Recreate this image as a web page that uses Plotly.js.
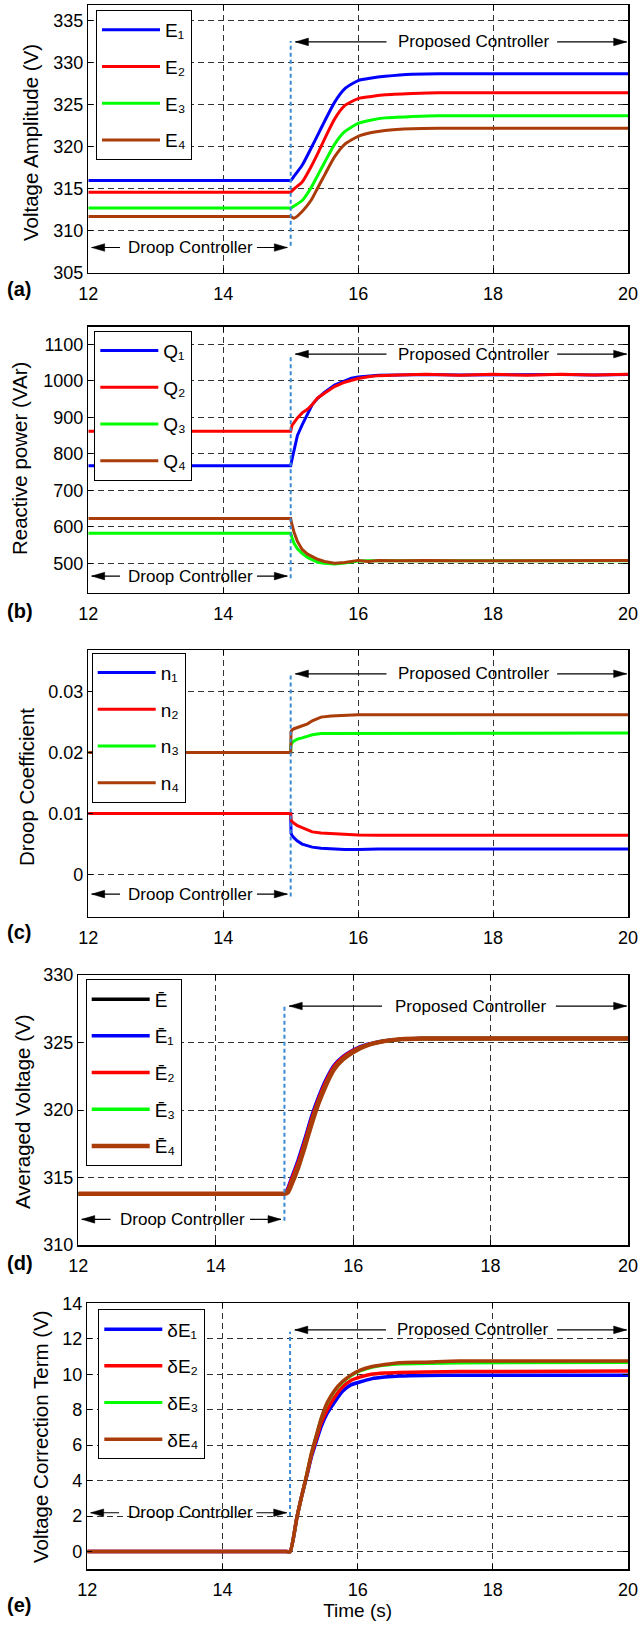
<!DOCTYPE html>
<html><head><meta charset="utf-8">
<script src="https://cdn.plot.ly/plotly-3.0.1.min.js"></script>
<style>body{margin:0;background:#fff}#chart{width:643px;height:1628px}</style>
</head><body><div id="chart"></div>
<script>
// ---------- data ----------
// (a) Voltage amplitude
const tA  = [12, 14, 14.95, 15, 15.05, 15.17, 15.3, 15.4, 15.5, 15.65, 15.8, 16.0, 16.2, 16.4, 16.8, 17.2, 20];
const E1  = [316.0, 316.0, 316.0, 316.0, 316.5, 317.8, 319.8, 321.4, 323.0, 325.3, 326.9, 327.9, 328.2, 328.4, 328.65, 328.7, 328.7];
const E2  = [314.6, 314.6, 314.6, 314.6, 315.0, 315.8, 317.6, 319.2, 320.9, 323.3, 324.9, 325.75, 326.0, 326.2, 326.35, 326.45, 326.45];
const E3  = [312.7, 312.7, 312.7, 312.7, 312.95, 313.6, 315.1, 316.6, 318.1, 320.3, 321.8, 322.8, 323.2, 323.45, 323.6, 323.7, 323.7];
const E4  = [311.7, 311.7, 311.7, 311.7, 311.5, 312.3, 313.6, 315.1, 316.6, 318.8, 320.3, 321.25, 321.7, 321.95, 322.15, 322.2, 322.2];
// (b) Reactive power
const tB  = [12, 15, 15.02, 15.05, 15.1, 15.17, 15.25, 15.32, 15.4, 15.5, 15.65, 15.8, 15.9, 16.0, 16.15, 16.3, 16.6, 17.0, 17.5, 18.0, 18.5, 19.0, 19.5, 20];
const Q1  = [767, 767, 785, 810, 850, 879, 911, 935, 952, 968, 988, 1000, 1007, 1010, 1013, 1015, 1016, 1017, 1016, 1017, 1016, 1017, 1016, 1017];
const Q2  = [862, 862, 878, 886, 898, 912, 922, 935, 953, 966, 984, 996, 1002, 1006, 1011, 1014, 1016, 1018, 1015, 1018, 1015, 1018, 1016, 1018];
const Q3  = [582, 582, 570, 555, 540, 527, 516, 509, 503, 500, 498, 501, 504, 506, 507, 507, 507, 507, 507, 507, 507, 507, 507, 507];
const Q4  = [623, 623, 605, 585, 560, 538, 525, 518, 511, 505, 500, 502, 505, 508, 505, 508, 507, 508, 507, 507, 508, 507, 507, 508];
// (c) Droop coefficient
const tC  = [12, 15, 15.005, 15.02, 15.05, 15.1, 15.17, 15.25, 15.32, 15.45, 15.6, 15.8, 16.0, 16.3, 20];
const n1  = [0.01, 0.01, 0.0068, 0.0064, 0.0060, 0.0055, 0.0050, 0.0047, 0.0045, 0.0043, 0.0042, 0.0041, 0.0041, 0.0042, 0.0042];
const n2  = [0.01, 0.01, 0.0090, 0.0087, 0.0084, 0.0080, 0.0077, 0.0073, 0.0070, 0.0068, 0.0067, 0.0066, 0.00648, 0.00645, 0.00645];
const n3  = [0.02, 0.02, 0.0213, 0.0216, 0.0219, 0.0222, 0.0224, 0.0227, 0.0229, 0.0231, 0.0231, 0.0232, 0.0232, 0.0232, 0.0232];
const n4  = [0.02, 0.02, 0.0234, 0.0237, 0.0239, 0.0241, 0.0243, 0.0247, 0.0252, 0.0258, 0.0260, 0.0261, 0.0262, 0.0262, 0.0262];
// (d) Averaged voltage
const tD  = [12, 14, 14.95, 15, 15.05, 15.1, 15.2, 15.3, 15.4, 15.5, 15.6, 15.72, 15.85, 16.0, 16.2, 16.45, 16.7, 17.0, 20];
const Eb  = [313.8, 313.8, 313.8, 313.8, 314.0, 314.6, 315.9, 317.5, 319.2, 320.7, 321.9, 323.1, 323.8, 324.35, 324.8, 325.1, 325.25, 325.3, 325.3];
const Eb1 = [313.8, 313.8, 313.8, 313.8, 314.2, 314.9, 316.3, 317.9, 319.6, 321.0, 322.2, 323.3, 323.95, 324.45, 324.85, 325.12, 325.25, 325.3, 325.3];
const Eb2 = [313.8, 313.8, 313.8, 313.8, 314.1, 314.8, 316.1, 317.7, 319.4, 320.85, 322.05, 323.2, 323.9, 324.4, 324.82, 325.1, 325.25, 325.3, 325.3];
const Eb3 = [313.8, 313.8, 313.8, 313.8, 313.95, 314.5, 315.8, 317.4, 319.1, 320.6, 321.8, 323.0, 323.75, 324.3, 324.78, 325.1, 325.25, 325.3, 325.3];
const Eb4 = [313.8, 313.8, 313.8, 313.8, 313.9, 314.45, 315.75, 317.35, 319.05, 320.55, 321.8, 323.0, 323.75, 324.3, 324.78, 325.1, 325.25, 325.3, 325.3];
// (e) Voltage correction term
const tE  = [12, 14, 14.95, 15, 15.1, 15.17, 15.25, 15.32, 15.4, 15.46, 15.55, 15.66, 15.78, 15.9, 16.03, 16.2, 16.4, 16.62, 17.0, 17.5, 20];
const dE1 = [0, 0, 0, 0, 1.9, 3.1, 4.3, 5.4, 6.35, 7.05, 7.8, 8.44, 9.05, 9.4, 9.56, 9.74, 9.84, 9.9, 9.93, 9.94, 9.94];
const dE2 = [0, 0, 0, 0, 1.9, 3.1, 4.35, 5.5, 6.5, 7.25, 8.0, 8.72, 9.3, 9.65, 9.84, 10.0, 10.07, 10.1, 10.12, 10.15, 10.18];
const dE3 = [0, 0, 0, 0, 1.9, 3.1, 4.4, 5.6, 6.7, 7.5, 8.35, 9.05, 9.55, 9.9, 10.17, 10.38, 10.5, 10.58, 10.6, 10.64, 10.66];
const dE4 = [0, 0, 0, 0, 1.9, 3.1, 4.4, 5.6, 6.7, 7.5, 8.4, 9.1, 9.6, 9.95, 10.22, 10.42, 10.55, 10.65, 10.68, 10.74, 10.74];

const xTicks = [12, 14, 16, 18, 20];

// ---------- styling ----------
const W = 643, H = 1628;
const BLUE = '#0000FF', RED = '#FF0000', GREEN = '#00FF00', BROWN = '#AA3C0A', BLACK = '#000000';
const FONT = 'Liberation Sans, Arial, DejaVu Sans, sans-serif';
const px = v => v / W, py = v => 1 - v / H;

function xAx(l, r, anchor) {
  return {domain: [px(l), px(r)], anchor, range: [12, 20], tickvals: xTicks,
    showgrid: true, griddash: '6px,4px', gridcolor: '#333', gridwidth: 1,
    showline: true, linecolor: '#000', linewidth: 1.5, mirror: 'ticks',
    ticks: 'inside', ticklen: 5, tickcolor: '#000', zeroline: false,
    tickfont: {family: FONT, size: 18, color: '#000'}, ticklabelstandoff: 4};
}
function yAx(top, bot, anchor, range, tickvals) {
  return {domain: [py(bot), py(top)], anchor, range, tickvals,
    showgrid: true, griddash: '6px,4px', gridcolor: '#333', gridwidth: 1,
    showline: true, linecolor: '#000', linewidth: 1.5, mirror: 'ticks',
    ticks: 'inside', ticklen: 5, tickcolor: '#000', zeroline: false,
    tickfont: {family: FONT, size: 18, color: '#000'}};
}

const traces = [];
function add(x, y, name, color, xa, ya, lg, w, shape) {
  traces.push({x, y, name, type: 'scatter', mode: 'lines', xaxis: xa, yaxis: ya,
    legend: lg, legendgroup: lg + name,
    line: {color, width: w || 3, shape: shape || 'linear', smoothing: 0.6}});
}
add(tA, E1, 'E₁', BLUE, 'x', 'y', 'legend', 3, 'spline');
add(tA, E2, 'E₂', RED, 'x', 'y', 'legend', 3, 'spline');
add(tA, E3, 'E₃', GREEN, 'x', 'y', 'legend', 3, 'spline');
add(tA, E4, 'E₄', BROWN, 'x', 'y', 'legend', 3, 'spline');
add(tB, Q1, 'Q₁', BLUE, 'x2', 'y2', 'legend2', 3);
add(tB, Q2, 'Q₂', RED, 'x2', 'y2', 'legend2', 3);
add(tB, Q3, 'Q₃', GREEN, 'x2', 'y2', 'legend2', 3);
add(tB, Q4, 'Q₄', BROWN, 'x2', 'y2', 'legend2', 3);
add(tC, n1, 'n₁', BLUE, 'x3', 'y3', 'legend3', 3);
add(tC, n2, 'n₂', RED, 'x3', 'y3', 'legend3', 3);
add(tC, n3, 'n₃', GREEN, 'x3', 'y3', 'legend3', 3);
add(tC, n4, 'n₄', BROWN, 'x3', 'y3', 'legend3', 3);
add(tD, Eb,  'Ē', BLACK, 'x4', 'y4', 'legend4', 3.5, 'spline');
add(tD, Eb1, 'Ē₁', BLUE, 'x4', 'y4', 'legend4', 3.5, 'spline');
add(tD, Eb2, 'Ē₂', RED, 'x4', 'y4', 'legend4', 3.5, 'spline');
add(tD, Eb3, 'Ē₃', GREEN, 'x4', 'y4', 'legend4', 3.5, 'spline');
add(tD, Eb4, 'Ē₄', BROWN, 'x4', 'y4', 'legend4', 4.5, 'spline');
add(tE, dE1, 'δE₁', BLUE, 'x5', 'y5', 'legend5', 3.5, 'spline');
add(tE, dE2, 'δE₂', RED, 'x5', 'y5', 'legend5', 3.5, 'spline');
add(tE, dE3, 'δE₃', GREEN, 'x5', 'y5', 'legend5', 3, 'spline');
add(tE, dE4, 'δE₄', BROWN, 'x5', 'y5', 'legend5', 3.5, 'spline');

function leg(l, t) {
  return {x: px(l), y: py(t), xanchor: 'left', yanchor: 'top', bgcolor: '#fff',
    bordercolor: '#000', borderwidth: 1, font: {family: FONT, size: 19, color: '#000'},
    tracegroupgap: 9, itemwidth: 58};
}

// controller-phase markers: [xaxis, yaxis, proposed y, droop y, vline bottom, vline top]
const phases = [
  ['x',  'y',  332.5, 308.0, 308.2, 332.6],
  ['x2', 'y2', 1073, 465, 459, 1068],
  ['x3', 'y3', 0.0329, -0.0032, -0.0036, 0.0327],
  ['x4', 'y4', 327.7, 311.9, 311.8, 327.7],
  ['x5', 'y5', 12.5, 2.19, 2.0, 12.4]
];
const annotations = [], shapes = [];
// arrow = line segment + pixel-sized triangular head (dir -1: points left, +1: points right)
function arrow(xa, ya, tip, y, tail, dir) {
  shapes.push({type: 'line', xref: xa, yref: ya, x0: tail, x1: tip, y0: y, y1: y,
    line: {color: '#000', width: 1.2}});
  const L = 13 * dir, h = 3.8;
  shapes.push({type: 'path', xref: xa, yref: ya, xsizemode: 'pixel', ysizemode: 'pixel',
    xanchor: tip, yanchor: y, path: `M0,0L${-L},${h}L${-L},${-h}Z`,
    fillcolor: '#000', line: {color: '#000', width: 0.5}});
}
const NOTE = {family: FONT, size: 17, color: '#000'};
phases.forEach(([xa, ya, yp, yd, v0, v1]) => {
  shapes.push({type: 'line', xref: xa, yref: ya, x0: 15, x1: 15, y0: v0, y1: v1,
    line: {color: '#3a8ad6', width: 2, dash: '4px,3px'}});
  arrow(xa, ya, 15.07, yp, 16.42, -1);
  arrow(xa, ya, 19.98, yp, 18.95, 1);
  annotations.push({xref: xa, yref: ya, x: 17.71, y: yp, text: 'Proposed Controller',
    showarrow: false, font: NOTE, yanchor: 'middle'});
  arrow(xa, ya, 12.05, yd, 12.47, -1);
  arrow(xa, ya, 14.95, yd, 14.5, 1);
  annotations.push({xref: xa, yref: ya, x: 13.52, y: yd, text: 'Droop Controller',
    showarrow: false, font: NOTE, yanchor: 'middle'});
});
// panel letters
[['(a)', 289.5], ['(b)', 611], ['(c)', 932], ['(d)', 1263], ['(e)', 1605]].forEach(([t, y]) => {
  annotations.push({xref: 'paper', yref: 'paper', x: px(5), y: py(y), xanchor: 'left',
    yanchor: 'middle', text: '<b>' + t + '</b>', showarrow: false,
    font: {family: FONT, size: 20, color: '#000'}});
});
// y-axis titles
[['Voltage Amplitude (V)', 31, 143], ['Reactive power (VAr)', 19, 459], ['Droop Coefficient', 26, 787],
 ['Averaged Voltage (V)', 22, 1112], ['Voltage Correction Term (V)', 40, 1437]].forEach(([t, x, y]) => {
  annotations.push({xref: 'paper', yref: 'paper', x: px(x), y: py(y), xanchor: 'center',
    yanchor: 'middle', textangle: -90, text: t, showarrow: false,
    font: {family: FONT, size: 20.5, color: '#000'}});
});

const layout = {
  width: W, height: H, margin: {l: 0, r: 0, t: 0, b: 0},
  paper_bgcolor: '#fff', plot_bgcolor: '#fff', font: {family: FONT, color: '#000'},
  xaxis:  xAx(88.3, 628, 'y'),
  yaxis:  yAx(5, 272.7, 'x', [305, 336.9], [305, 310, 315, 320, 325, 330, 335]),
  xaxis2: xAx(88.3, 628, 'y2'),
  yaxis2: yAx(326.7, 592.7, 'x2', [419.5, 1148], [500, 600, 700, 800, 900, 1000, 1100]),
  xaxis3: xAx(88.3, 628, 'y3'),
  yaxis3: yAx(650, 916.7, 'x3', [-0.0069, 0.0368], [0, 0.01, 0.02, 0.03]),
  xaxis4: xAx(78.3, 628, 'y4'),
  yaxis4: yAx(975, 1245, 'x4', [310, 330], [310, 315, 320, 325, 330]),
  xaxis5: Object.assign(xAx(87.3, 628, 'y5'), {title: {text: 'Time (s)', font: {family: FONT, size: 19, color: '#000'}, standoff: 4}}),
  yaxis5: yAx(1303.3, 1569.3, 'x5', [-1, 14], [0, 2, 4, 6, 8, 10, 12, 14]),
  legend:  leg(96, 10),
  legend2: leg(94.3, 330.7),
  legend3: leg(91.7, 652.7),
  legend4: leg(85.7, 979.3),
  legend5: leg(98.3, 1309.3),
  showlegend: true,
  annotations, shapes
};
Plotly.newPlot('chart', traces, layout, {staticPlot: true});
</script></body></html>
